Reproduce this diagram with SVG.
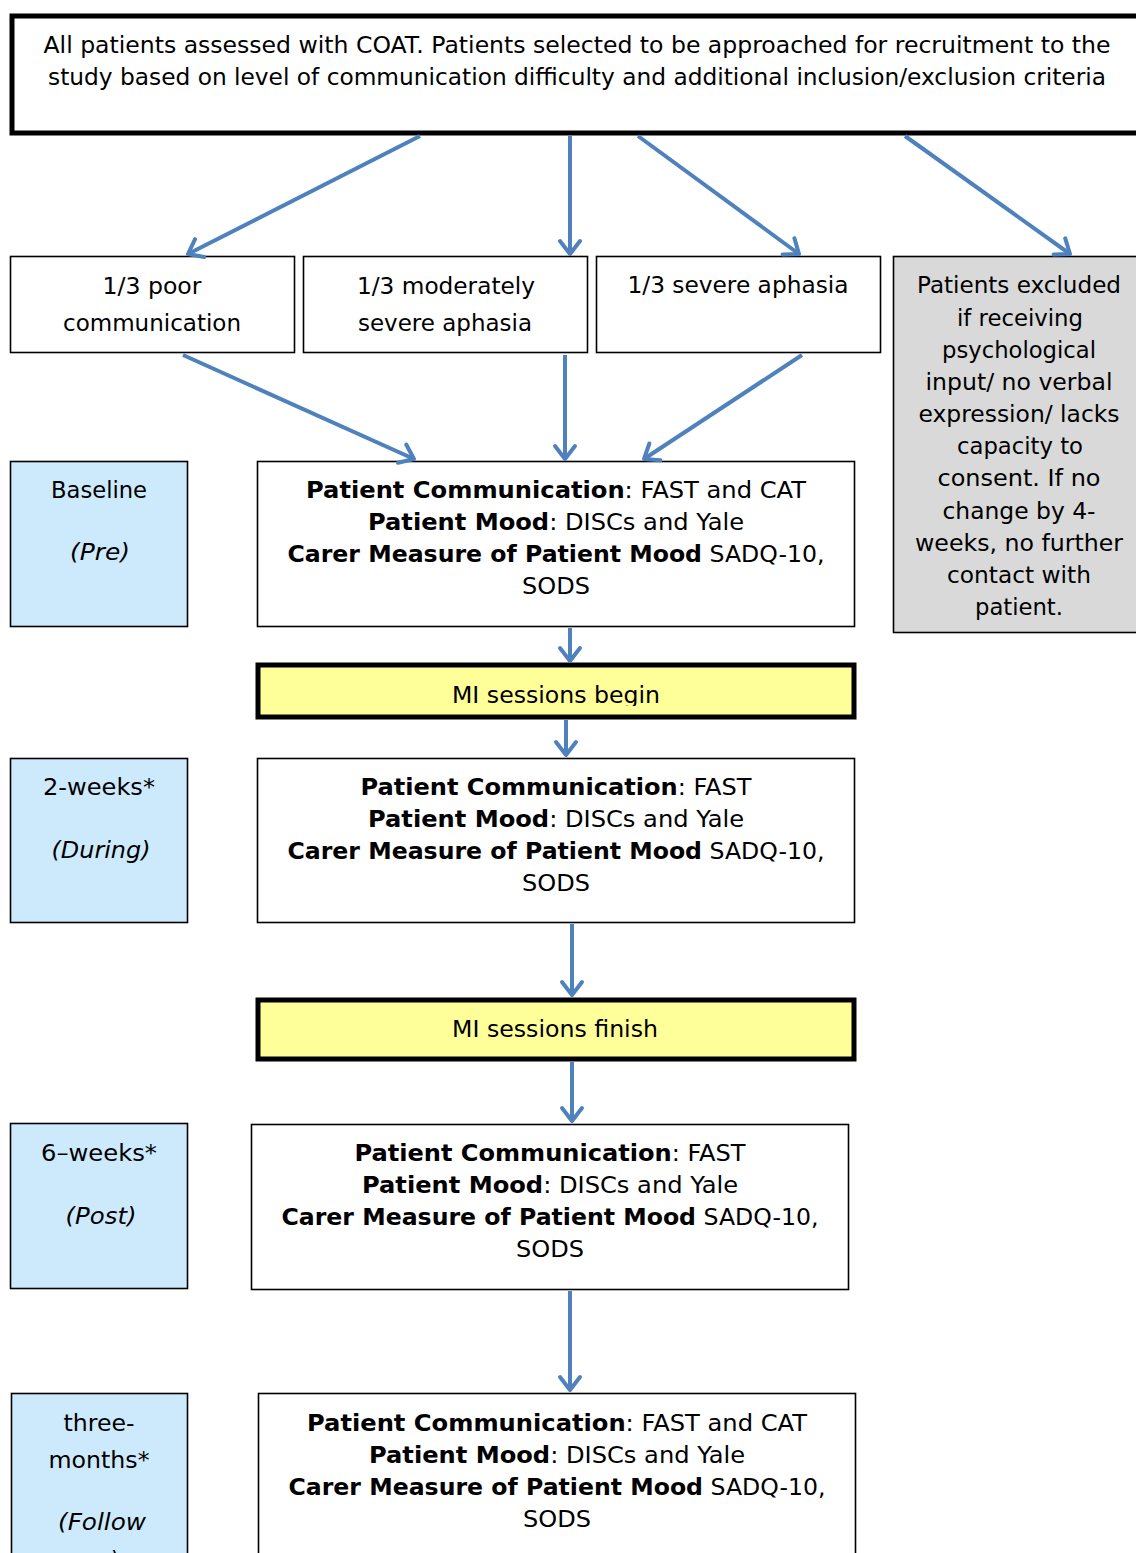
<svg xmlns="http://www.w3.org/2000/svg" width="1136" height="1553" viewBox="0 0 1136 1553">
<style>
text{font-family:"DejaVu Sans","Liberation Sans",sans-serif;font-size:23px;fill:#000;text-anchor:middle}
.b{font-weight:bold}
.i{font-style:italic}
.thin{fill:#fff;stroke:#000;stroke-width:1.6}
.thick{stroke:#000;stroke-width:5}
.side{fill:#cdeafd;stroke:#000;stroke-width:1.6}
.grey{fill:#d9d9d9;stroke:#000;stroke-width:1.6}
.yel{fill:#ffff99;stroke:#000;stroke-width:5}
.conn line{stroke:#4f81bd;stroke-width:4;marker-end:url(#ah)}
</style>
<defs>
<marker id="ah" markerUnits="userSpaceOnUse" markerWidth="30" markerHeight="30" refX="0" refY="0" viewBox="-16 -15 20 30" orient="auto" overflow="visible">
<path d="M-13,-10 L0,0 L-13,10" fill="none" stroke="#4f81bd" stroke-width="4" stroke-linejoin="round" stroke-linecap="round"/>
</marker>
<clipPath id="clipBegin"><rect x="256" y="663" width="600" height="43"/></clipPath>
</defs>
<rect x="0" y="0" width="1136" height="1553" fill="#fff"/>

<g id="top">
<rect x="12" y="16" width="1150" height="117" fill="#fff" class="thick"/>
<text x="577" y="53" textLength="1067" lengthAdjust="spacingAndGlyphs">All patients assessed with COAT. Patients selected to be approached for recruitment to the</text>
<text x="577" y="85" textLength="1058" lengthAdjust="spacingAndGlyphs">study based on level of communication difficulty and additional inclusion/exclusion criteria</text>
</g>

<g id="poor">
<rect x="10.5" y="256.5" width="284" height="96" class="thin"/>
<text x="152" y="294" textLength="99" lengthAdjust="spacingAndGlyphs">1/3 poor</text>
<text x="152" y="331" textLength="178" lengthAdjust="spacingAndGlyphs">communication</text>
</g>
<g id="moderate">
<rect x="303.5" y="256.5" width="284" height="96" class="thin"/>
<text x="446" y="294" textLength="178" lengthAdjust="spacingAndGlyphs">1/3 moderately</text>
<text x="445" y="331" textLength="174" lengthAdjust="spacingAndGlyphs">severe aphasia</text>
</g>
<g id="severe">
<rect x="596.5" y="256.5" width="284" height="96" class="thin"/>
<text x="738" y="293" textLength="221" lengthAdjust="spacingAndGlyphs">1/3 severe aphasia</text>
</g>
<g id="excluded">
<rect x="893.5" y="256.5" width="260" height="376" class="grey"/>
<text x="1019" y="293" textLength="204" lengthAdjust="spacingAndGlyphs">Patients excluded</text>
<text x="1020" y="326" textLength="126" lengthAdjust="spacingAndGlyphs">if receiving</text>
<text x="1019" y="358" textLength="154" lengthAdjust="spacingAndGlyphs">psychological</text>
<text x="1019" y="390" textLength="187" lengthAdjust="spacingAndGlyphs">input/ no verbal</text>
<text x="1019" y="422" textLength="201" lengthAdjust="spacingAndGlyphs">expression/ lacks</text>
<text x="1020" y="454" textLength="126" lengthAdjust="spacingAndGlyphs">capacity to</text>
<text x="1019" y="486" textLength="163" lengthAdjust="spacingAndGlyphs">consent. If no</text>
<text x="1019" y="519" textLength="153" lengthAdjust="spacingAndGlyphs">change by 4-</text>
<text x="1019" y="551" textLength="208" lengthAdjust="spacingAndGlyphs">weeks, no further</text>
<text x="1019" y="583" textLength="144" lengthAdjust="spacingAndGlyphs">contact with</text>
<text x="1019" y="615" textLength="88" lengthAdjust="spacingAndGlyphs">patient.</text>
</g>

<g id="baseline">
<rect x="10.5" y="461.5" width="177" height="165" class="side"/>
<text x="99" y="498" textLength="96" lengthAdjust="spacingAndGlyphs">Baseline</text>
<text x="100" y="560" class="i" textLength="60" lengthAdjust="spacingAndGlyphs">(Pre)</text>
</g>
<g id="m1">
<rect x="257.5" y="461.5" width="597" height="165" class="thin"/>
<text x="556" y="498" textLength="500" lengthAdjust="spacingAndGlyphs"><tspan class="b">Patient Communication</tspan>: FAST and CAT</text>
<text x="556" y="530" textLength="376" lengthAdjust="spacingAndGlyphs"><tspan class="b">Patient Mood</tspan>: DISCs and Yale</text>
<text x="556" y="562" textLength="537" lengthAdjust="spacingAndGlyphs"><tspan class="b">Carer Measure of Patient Mood</tspan> SADQ-10,</text>
<text x="556" y="594" textLength="68" lengthAdjust="spacingAndGlyphs">SODS</text>
</g>

<g id="begin">
<rect x="258" y="665" width="596" height="52" class="yel"/>
<text x="556" y="703" clip-path="url(#clipBegin)" textLength="208" lengthAdjust="spacingAndGlyphs">MI sessions begin</text>
</g>

<g id="weeks2">
<rect x="10.5" y="758.5" width="177" height="164" class="side"/>
<text x="99" y="795" textLength="112" lengthAdjust="spacingAndGlyphs">2-weeks*</text>
<text x="101" y="858" class="i" textLength="99" lengthAdjust="spacingAndGlyphs">(During)</text>
</g>
<g id="m2">
<rect x="257.5" y="758.5" width="597" height="164" class="thin"/>
<text x="556" y="795" textLength="391" lengthAdjust="spacingAndGlyphs"><tspan class="b">Patient Communication</tspan>: FAST</text>
<text x="556" y="827" textLength="376" lengthAdjust="spacingAndGlyphs"><tspan class="b">Patient Mood</tspan>: DISCs and Yale</text>
<text x="556" y="859" textLength="537" lengthAdjust="spacingAndGlyphs"><tspan class="b">Carer Measure of Patient Mood</tspan> SADQ-10,</text>
<text x="556" y="891" textLength="68" lengthAdjust="spacingAndGlyphs">SODS</text>
</g>

<g id="finish">
<rect x="258" y="1000" width="596" height="59" class="yel"/>
<text x="555" y="1037" textLength="206" lengthAdjust="spacingAndGlyphs">MI sessions finish</text>
</g>

<g id="weeks6">
<rect x="10.5" y="1123.5" width="177" height="165" class="side"/>
<text x="99" y="1161" textLength="116" lengthAdjust="spacingAndGlyphs">6–weeks*</text>
<text x="101" y="1224" class="i" textLength="71" lengthAdjust="spacingAndGlyphs">(Post)</text>
</g>
<g id="m3">
<rect x="251.5" y="1124.5" width="597" height="165" class="thin"/>
<text x="550" y="1161" textLength="391" lengthAdjust="spacingAndGlyphs"><tspan class="b">Patient Communication</tspan>: FAST</text>
<text x="550" y="1193" textLength="376" lengthAdjust="spacingAndGlyphs"><tspan class="b">Patient Mood</tspan>: DISCs and Yale</text>
<text x="550" y="1225" textLength="537" lengthAdjust="spacingAndGlyphs"><tspan class="b">Carer Measure of Patient Mood</tspan> SADQ-10,</text>
<text x="550" y="1257" textLength="68" lengthAdjust="spacingAndGlyphs">SODS</text>
</g>

<g id="months3">
<rect x="11.5" y="1393.5" width="176" height="200" class="side"/>
<text x="99" y="1431" textLength="71" lengthAdjust="spacingAndGlyphs">three-</text>
<text x="99" y="1468" textLength="101" lengthAdjust="spacingAndGlyphs">months*</text>
<text x="102" y="1530" class="i" textLength="88" lengthAdjust="spacingAndGlyphs">(Follow</text>
<text x="100" y="1568" class="i">up)</text>
</g>
<g id="m4">
<rect x="258.5" y="1393.5" width="597" height="200" class="thin"/>
<text x="557" y="1431" textLength="500" lengthAdjust="spacingAndGlyphs"><tspan class="b">Patient Communication</tspan>: FAST and CAT</text>
<text x="557" y="1463" textLength="376" lengthAdjust="spacingAndGlyphs"><tspan class="b">Patient Mood</tspan>: DISCs and Yale</text>
<text x="557" y="1495" textLength="537" lengthAdjust="spacingAndGlyphs"><tspan class="b">Carer Measure of Patient Mood</tspan> SADQ-10,</text>
<text x="557" y="1527" textLength="68" lengthAdjust="spacingAndGlyphs">SODS</text>
</g>

<g id="connectors" class="conn">
<line x1="420" y1="136" x2="188" y2="254"/>
<line x1="570" y1="136" x2="570" y2="254"/>
<line x1="638" y1="136" x2="799" y2="254"/>
<line x1="905" y1="136" x2="1070" y2="254"/>
<line x1="183" y1="355" x2="414" y2="459"/>
<line x1="565" y1="355" x2="565" y2="459"/>
<line x1="802" y1="355" x2="644" y2="459"/>
<line x1="570" y1="628" x2="570" y2="661"/>
<line x1="566" y1="720" x2="566" y2="755"/>
<line x1="572" y1="924" x2="572" y2="995"/>
<line x1="572" y1="1062" x2="572" y2="1121"/>
<line x1="570" y1="1291" x2="570" y2="1390"/>
</g>
</svg>
